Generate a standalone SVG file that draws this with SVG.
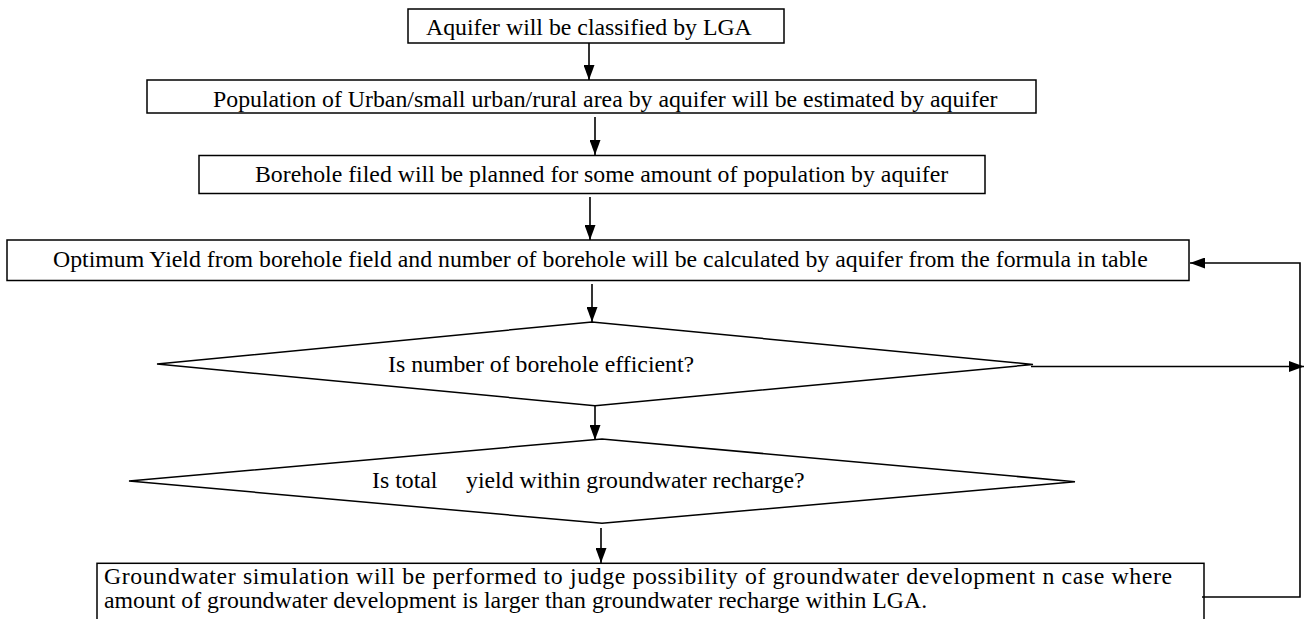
<svg xmlns="http://www.w3.org/2000/svg" width="1304" height="619" viewBox="0 0 1304 619">
<style>
.box{fill:#fff;stroke:#000;stroke-width:1.5}
.dia{fill:#fff;stroke:#000;stroke-width:1.5}
.t{font-family:"Liberation Serif","Times New Roman",serif;font-size:23.8px;fill:#000}
.ln{fill:none;stroke:#000;stroke-width:1.6}
</style>
<defs>
<marker id="ah" viewBox="0 0 15 11" refX="15" refY="5.5" markerWidth="15" markerHeight="11" markerUnits="userSpaceOnUse" orient="auto">
<path d="M0,0 L15,5.5 L0,11 z" fill="#000"/>
</marker>
</defs>
<rect width="1304" height="619" fill="#fff"/>
<g id="n1">
<rect class="box" x="408" y="9" width="376" height="34"/>
<text class="t" x="426" y="35">Aquifer will be classified by LGA</text>
</g>
<g id="n2">
<rect class="box" x="147" y="80" width="889" height="33"/>
<text class="t" x="213" y="106.5">Population of Urban/small urban/rural area by aquifer will be estimated by aquifer</text>
</g>
<g id="n3">
<rect class="box" x="199" y="155.5" width="786" height="38"/>
<text class="t" x="255" y="182">Borehole filed will be planned for some amount of population by aquifer</text>
</g>
<g id="n4">
<rect class="box" x="7" y="240" width="1182" height="40.5"/>
<text class="t" x="53" y="267">Optimum Yield from borehole field and number of borehole will be calculated by aquifer from the formula in table</text>
</g>
<g id="n5">
<polygon class="dia" points="157,364 592,322 1033,364.5 595,405.7"/>
<text class="t" x="388" y="372">Is number of borehole efficient?</text>
</g>
<g id="n6">
<polygon class="dia" points="129,481 602,439 1075,481.7 602,523.3"/>
<text class="t" y="488"><tspan x="372">Is total</tspan><tspan x="466">yield within groundwater recharge?</tspan></text>
</g>
<g id="n7">
<rect class="box" x="97" y="563.3" width="1107" height="80"/>
<text class="t" x="104" y="584" textLength="1068" lengthAdjust="spacing">Groundwater simulation will be performed to judge possibility of groundwater development n case where</text>
<text class="t" x="104" y="608">amount of groundwater development is larger than groundwater recharge within LGA.</text>
</g>
<g id="connectors">
<line class="ln" x1="589" y1="43" x2="589" y2="80" marker-end="url(#ah)"/>
<line class="ln" x1="595" y1="117" x2="595" y2="155" marker-end="url(#ah)"/>
<line class="ln" x1="590" y1="197" x2="590" y2="240" marker-end="url(#ah)"/>
<line class="ln" x1="592" y1="284" x2="592" y2="322" marker-end="url(#ah)"/>
<line class="ln" x1="595" y1="406" x2="595" y2="440" marker-end="url(#ah)"/>
<line class="ln" x1="601" y1="528" x2="601" y2="563" marker-end="url(#ah)"/>
<line class="ln" x1="1031" y1="366.5" x2="1304" y2="366.5" marker-end="url(#ah)"/>
<polyline class="ln" points="1202,597 1300,597 1300,263 1190,263" marker-end="url(#ah)"/>
</g>
</svg>
